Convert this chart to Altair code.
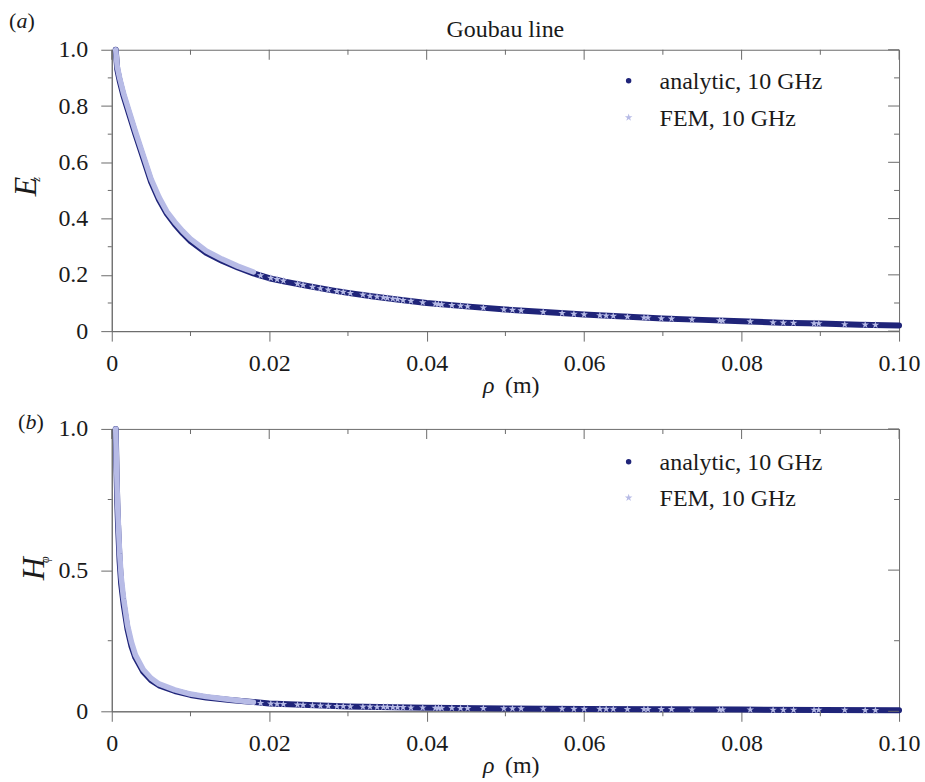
import altair as alt
import pandas as pd

# ---------------- data ----------------
# (a) E_z, analytic curve samples
rho_ez = [0.0005, 0.0007, 0.001, 0.0015, 0.002, 0.003, 0.004, 0.005, 0.006, 0.007,
          0.008, 0.009, 0.010, 0.012, 0.014, 0.016, 0.018, 0.020, 0.022, 0.025,
          0.028, 0.030, 0.033, 0.036, 0.040, 0.045, 0.050, 0.055, 0.060, 0.065,
          0.070, 0.075, 0.080, 0.085, 0.090, 0.095, 0.100]
ez_analytic = [1.00, 0.93, 0.89, 0.835, 0.79, 0.70, 0.615, 0.53, 0.467, 0.417,
               0.38, 0.348, 0.32, 0.278, 0.25, 0.226, 0.205, 0.188, 0.176, 0.16,
               0.145, 0.136, 0.124, 0.113, 0.100, 0.088, 0.077, 0.068, 0.059, 0.052,
               0.045, 0.040, 0.035, 0.030, 0.027, 0.023, 0.020]
# (a) E_z, FEM dense part (overlapping stars forming a band)
rho_ez_fem_band = [0.0005, 0.0007, 0.001, 0.0015, 0.002, 0.003, 0.004, 0.005, 0.006,
                   0.007, 0.008, 0.009, 0.010, 0.012, 0.014, 0.016, 0.018]
ez_fem_band = [1.00, 0.94, 0.90, 0.845, 0.80, 0.71, 0.625, 0.54, 0.476,
               0.425, 0.388, 0.356, 0.328, 0.285, 0.256, 0.231, 0.21]
# FEM sample positions where single stars are visible
rho_fem_stars = [0.0189, 0.0202, 0.0210, 0.0218, 0.0236, 0.0243, 0.0255, 0.0265, 0.0275,
                 0.0286, 0.0294, 0.0303, 0.0319, 0.0328, 0.0337, 0.0345, 0.0350, 0.0357,
                 0.0363, 0.0370, 0.0380, 0.0395, 0.0411, 0.0415, 0.0419, 0.0432, 0.0443,
                 0.0452, 0.0472, 0.0498, 0.0509, 0.0520, 0.0548, 0.0572, 0.0587, 0.0600,
                 0.0620, 0.0628, 0.0637, 0.0655, 0.0676, 0.0681, 0.0698, 0.0711, 0.0737,
                 0.0772, 0.0776, 0.0811, 0.0840, 0.0853, 0.0866, 0.0892, 0.0898, 0.0931,
                 0.0957, 0.0970]
ez_fem_stars = [0.198, 0.189, 0.184, 0.179, 0.168, 0.164, 0.157, 0.152, 0.147,
                0.142, 0.139, 0.135, 0.129, 0.125, 0.122, 0.120, 0.118, 0.115,
                0.113, 0.110, 0.107, 0.102, 0.097, 0.096, 0.095, 0.092, 0.090,
                0.088, 0.083, 0.077, 0.075, 0.073, 0.068, 0.064, 0.061, 0.059,
                0.056, 0.055, 0.054, 0.051, 0.048, 0.048, 0.045, 0.044, 0.041,
                0.038, 0.037, 0.034, 0.031, 0.030, 0.029, 0.027, 0.027, 0.024,
                0.023, 0.022]

# (b) H_phi, analytic curve samples
rho_h = [0.0005, 0.0006, 0.0007, 0.0008, 0.001, 0.0012, 0.0015, 0.002, 0.0025, 0.003,
         0.004, 0.005, 0.006, 0.008, 0.010, 0.012, 0.015, 0.020, 0.025, 0.030,
         0.040, 0.050, 0.060, 0.070, 0.080, 0.090, 0.100]
h_analytic = [1.00, 0.86, 0.74, 0.66, 0.53, 0.45, 0.38, 0.29, 0.23, 0.19,
              0.14, 0.11, 0.092, 0.072, 0.058, 0.049, 0.040, 0.028, 0.022, 0.017,
              0.013, 0.010, 0.008, 0.007, 0.006, 0.005, 0.004]
rho_h_fem_band = [0.0005, 0.0006, 0.0007, 0.0008, 0.001, 0.0012, 0.0015, 0.002, 0.0025,
                  0.003, 0.004, 0.005, 0.006, 0.008, 0.010, 0.012, 0.015, 0.018]
h_fem_band = [1.00, 0.88, 0.77, 0.69, 0.56, 0.475, 0.40, 0.305, 0.245,
              0.20, 0.148, 0.117, 0.097, 0.076, 0.061, 0.052, 0.042, 0.032]
h_fem_stars = [0.029, 0.027, 0.026, 0.025, 0.023, 0.022, 0.021, 0.020, 0.019,
               0.018, 0.018, 0.017, 0.016, 0.016, 0.015, 0.015, 0.015, 0.014,
               0.014, 0.014, 0.013, 0.013, 0.012, 0.012, 0.012, 0.012, 0.011,
               0.011, 0.011, 0.010, 0.010, 0.010, 0.009, 0.009, 0.008, 0.008,
               0.008, 0.008, 0.008, 0.007, 0.007, 0.007, 0.007, 0.007, 0.006,
               0.006, 0.006, 0.006, 0.005, 0.005, 0.005, 0.005, 0.005, 0.005,
               0.004, 0.004]

# tick values
x_major = [0, 0.02, 0.04, 0.06, 0.08, 0.10]
x_minor = [0.01, 0.03, 0.05, 0.07, 0.09]
ez_major = [0, 0.2, 0.4, 0.6, 0.8, 1.0]
ez_minor = [0.1, 0.3, 0.5, 0.7, 0.9]
h_major = [0, 0.5, 1.0]
h_minor = [0.25, 0.75]

title_text = "Goubau line"
legend_labels = ["analytic, 10 GHz", "FEM, 10 GHz"]

# ---------------- styling ----------------
NAVY = "#1f2479"
LAV = "#b7bbe6"
AXC = "#6b6b6b"
TXT = "#1a1a1a"
FONT = "Liberation Serif"
W = 789
STAR = ("M0,-1L0.2245,-0.309L0.951,-0.309L0.3633,0.118L0.5878,0.809L0,0.382"
        "L-0.5878,0.809L-0.3633,0.118L-0.951,-0.309L-0.2245,-0.309Z")


def txt(s, x, y, size, italic=False, align="left", angle=0, baseline="alphabetic"):
    kw = dict(font=FONT, fontSize=size, align=align, baseline=baseline, color=TXT)
    if italic:
        kw["fontStyle"] = "italic"
    if angle:
        kw["angle"] = angle
    return alt.Chart(pd.DataFrame({"t": [s]})).mark_text(**kw).encode(
        text="t:N", x=alt.value(x), y=alt.value(y))


def panel(rho_an, v_an, rho_band, v_band, v_stars, y_major, y_minor, Hh,
          letter, letter_x, letter_y, ylab, ysub, ylab_pos, ysub_pos, legend_y, extra):
    xs = alt.Scale(domain=[0, 0.1], nice=False, zero=False)
    ys = alt.Scale(domain=[0, 1], nice=False, zero=False)
    xaxis = alt.Axis(values=x_major,
                     labelExpr="datum.value == 0 ? '0' : format(datum.value, '.2f')",
                     tickSize=10, tickColor=AXC, domainColor=AXC, grid=False,
                     labelFont=FONT, labelFontSize=24, labelColor=TXT, labelPadding=10,
                     labelFlush=False, labelOverlap=False, title=None)
    yaxis = alt.Axis(values=y_major,
                     labelExpr="datum.value == 0 ? '0' : format(datum.value, '.1f')",
                     tickSize=11, tickColor=AXC, domainColor=AXC, grid=False,
                     labelFont=FONT, labelFontSize=24, labelColor=TXT, labelPadding=13,
                     labelOverlap=False, title=None)
    X = lambda f: alt.X(f, scale=xs, axis=xaxis)
    Y = lambda f: alt.Y(f, scale=ys, axis=yaxis)

    an = alt.Chart(pd.DataFrame({"rho": rho_an, "v": v_an})).mark_line(
        color=NAVY, strokeWidth=6, strokeCap="round", strokeJoin="round").encode(
        x=X("rho:Q"), y=Y("v:Q"))
    band = alt.Chart(pd.DataFrame({"rho": rho_band, "v": v_band})).mark_line(
        color=LAV, strokeWidth=5.5, strokeCap="round", strokeJoin="round").encode(
        x=X("rho:Q"), y=Y("v:Q"))
    stars = alt.Chart(pd.DataFrame({"rho": rho_fem_stars, "v": v_stars})).mark_point(
        shape=STAR, filled=True, color=LAV, size=64, opacity=1).encode(
        x=X("rho:Q"), y=Y("v:Q"))

    def xtick(vals, ycenter, length):
        return alt.Chart(pd.DataFrame({"rho": vals})).mark_tick(
            color=AXC, thickness=1, size=length, opacity=1).encode(
            x=X("rho:Q"), y=alt.value(ycenter))

    def ytick(vals, xcenter, length):
        return alt.Chart(pd.DataFrame({"v": vals})).mark_tick(
            color=AXC, thickness=1, size=length, opacity=1).encode(
            y=Y("v:Q"), x=alt.value(xcenter))

    ticks = [
        xtick(x_minor, Hh + 2.5, 5),
        xtick(x_major, 5, 10),
        xtick(x_minor, 2.5, 5),
        ytick(y_minor, -2, 4),
        ytick(y_major, W - 5.5, 11),
        ytick(y_minor, W - 2.5, 5),
    ]

    leg_dot = alt.Chart(pd.DataFrame({"t": [legend_labels[0]]})).mark_point(
        shape="circle", filled=True, color=NAVY, size=30, opacity=1).encode(
        x=alt.value(518), y=alt.value(legend_y[0]))
    leg_star = alt.Chart(pd.DataFrame({"t": [legend_labels[1]]})).mark_point(
        shape=STAR, filled=True, color=LAV, size=64, opacity=1).encode(
        x=alt.value(518), y=alt.value(legend_y[1]))

    texts = [
        txt("(", letter_x, letter_y, 22),
        txt(letter, letter_x + 7.5, letter_y, 22, italic=True),
        txt(")", letter_x + 18.5, letter_y, 22),
        txt("\u03c1", 372, Hh + 62, 24, italic=True),
        txt("(m)", 394, Hh + 62, 24),
        txt(ylab, ylab_pos[0], ylab_pos[1], 32, italic=True, align="center", angle=270),
        txt(ysub, ysub_pos[0], ysub_pos[1], 12, italic=True, align="center", angle=270),
        txt(legend_labels[0], 549, legend_y[0] + 8, 24),
        txt(legend_labels[1], 549, legend_y[1] + 8, 24),
        leg_dot, leg_star,
    ]
    layers = [an, band, stars] + ticks + texts + extra
    return alt.layer(*layers).properties(width=W, height=Hh)


# invisible anchors fixing the page extent (925 x 782)
anchor_top = alt.Chart(pd.DataFrame({"t": [0]})).mark_rule(opacity=0).encode(
    x=alt.value(-111), x2=alt.value(814), y=alt.value(-48))
anchor_bottom = alt.Chart(pd.DataFrame({"t": [0]})).mark_rule(opacity=0).encode(
    x=alt.value(0), x2=alt.value(10), y=alt.value(354))

pa = panel(rho_ez, ez_analytic, rho_ez_fem_band, ez_fem_band, ez_fem_stars,
           ez_major, ez_minor, 282, "a", -103, -22, "E", "z", (-76, 137), (-72, 130),
           (31, 68), [anchor_top, txt(title_text, 394.5, -13, 24, align="center")])
pb = panel(rho_h, h_analytic, rho_h_fem_band, h_fem_band, h_fem_stars,
           h_major, h_minor, 283, "b", -94, 0, "H", "\u03c6", (-68, 140), (-63, 131),
           (33, 69), [anchor_bottom])

chart = alt.vconcat(pa, pb, spacing=98, bounds="flush").properties(
    padding=0).configure_view(stroke=AXC, strokeWidth=1)

chart.save("out.html", embed_options={"renderer": "svg", "actions": False})
